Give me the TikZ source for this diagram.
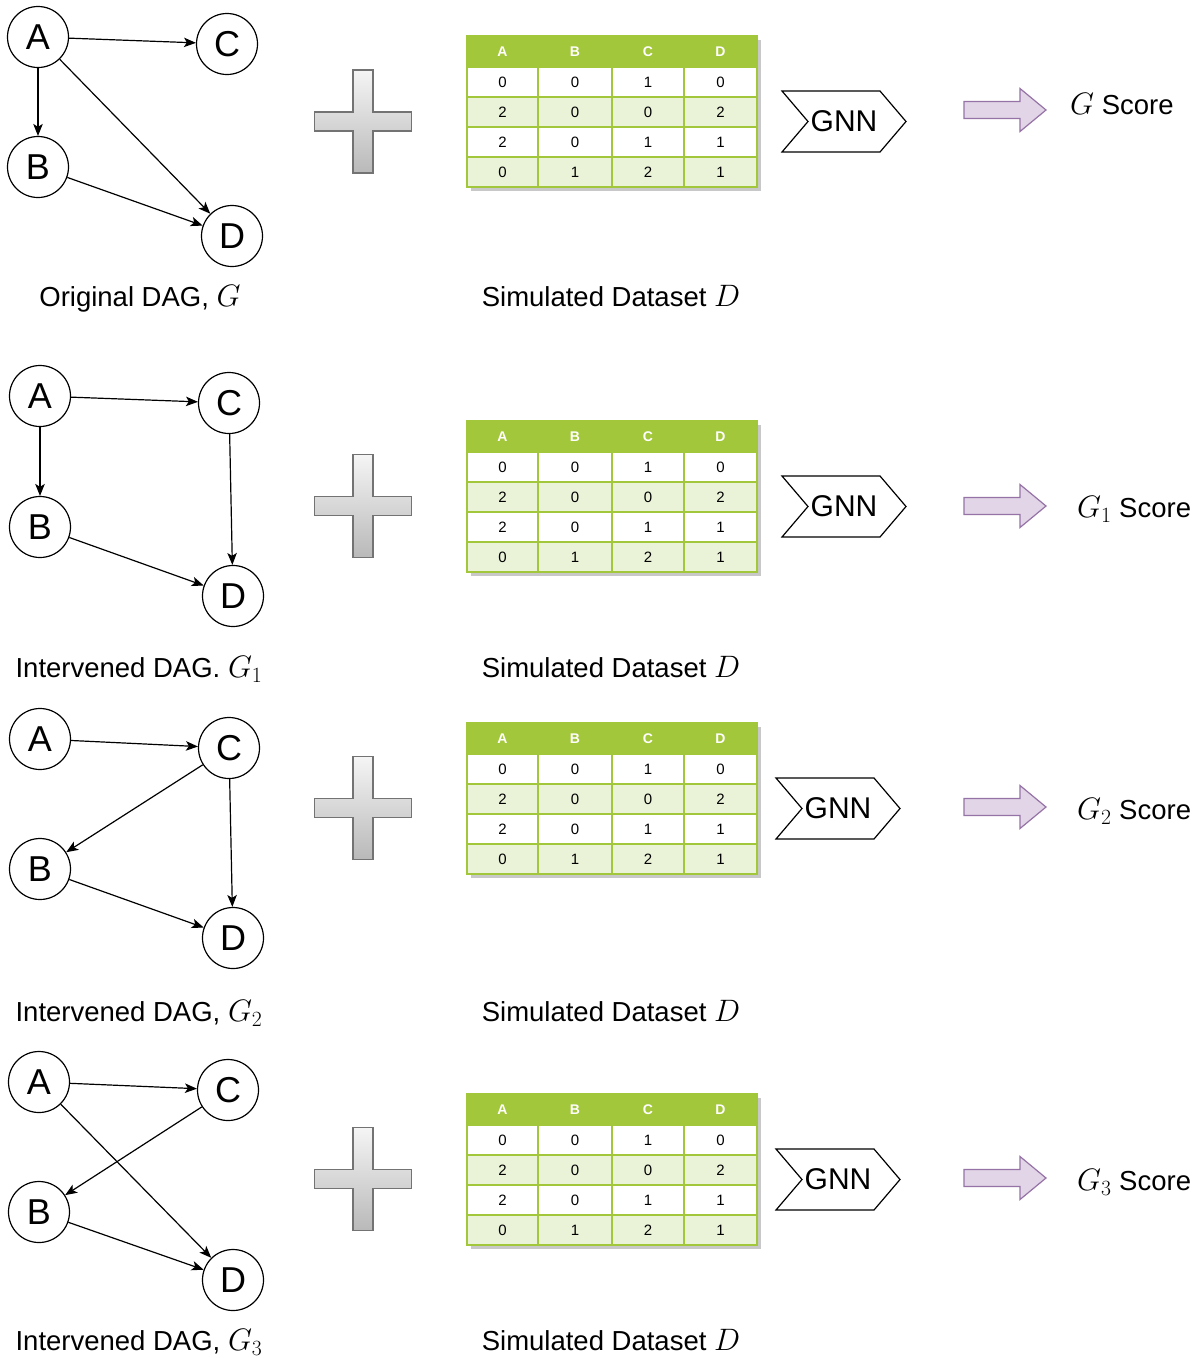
\RequirePackage{fix-cm}
\documentclass[tikz,border=0pt]{standalone}
\usepackage[no-math]{fontspec}
\setmainfont{Liberation Sans}
\usetikzlibrary{arrows.meta}
\definecolor{tgreen}{RGB}{163,199,58}
\definecolor{tlight}{RGB}{234,242,216}
\definecolor{tshadow}{RGB}{200,200,200}
\definecolor{arfill}{RGB}{225,213,231}
\definecolor{ardraw}{RGB}{150,115,166}
\definecolor{plusline}{RGB}{115,115,115}
\newcommand\MathBig[1]{{\fontsize{31}{34}\selectfont$#1$}}
\tikzset{
  vtx/.style={circle, draw, line width=1.2pt, minimum size=61pt, inner sep=0pt,
    font=\fontsize{36}{36}\selectfont},
  dagedge/.style={-{Stealth[length=12pt,width=9.5pt,inset=3pt]}, line width=1.2pt},
  lbl/.style={font=\fontsize{27.5}{30}\selectfont, inner sep=0pt, anchor=base},
  hdr/.style={font=\bfseries\fontsize{14}{16}\selectfont, text=white, inner sep=0pt},
  cell/.style={font=\fontsize{15}{17}\selectfont, inner sep=0pt},
  gnnshape/.style={draw, line width=1.2pt, fill=white},
  gnntext/.style={font=\fontsize{30}{30}\selectfont, inner sep=0pt},
  bigarrow/.style={draw=ardraw, fill=arfill, line width=1.2pt},
  plusshape/.style={draw=plusline, line width=1.5pt, top color=gray!8, bottom color=gray!55},
}
\newcommand\TRow[7]{% prefix, row, y, a, b, c, d
  \node[cell] (#1-#2-1) at (502.5,#3) {#4};
  \node[cell] (#1-#2-2) at (575,#3) {#5};
  \node[cell] (#1-#2-3) at (648,#3) {#6};
  \node[cell] (#1-#2-4) at (720.5,#3) {#7};
}
\newcommand\DataTbl[2]{% top y, prefix
  \begin{scope}[shift={(0,#1)}]
    \fill[tshadow] (471,4) rectangle (761,155);
    \fill[tgreen] (467,0) rectangle (757,31);
    \fill[white] (467,31) rectangle (757,61);
    \fill[tlight] (467,61) rectangle (757,91);
    \fill[white] (467,91) rectangle (757,121);
    \fill[tlight] (467,121) rectangle (757,151);
    \draw[tgreen, line width=1.2pt] (538,0) -- (538,151) (612,0) -- (612,151) (684,0) -- (684,151)
      (467,31) -- (757,31) (467,61) -- (757,61) (467,91) -- (757,91) (467,121) -- (757,121);
    \draw[tgreen, line width=1.6pt] (467,0) rectangle (757,151);
    \node[hdr] (#2-h-1) at (502.5,15.5) {A};
    \node[hdr] (#2-h-2) at (575,15.5) {B};
    \node[hdr] (#2-h-3) at (648,15.5) {C};
    \node[hdr] (#2-h-4) at (720.5,15.5) {D};
    \TRow{#2}{1}{46}{0}{0}{1}{0}
    \TRow{#2}{2}{76}{2}{0}{0}{2}
    \TRow{#2}{3}{106}{2}{0}{1}{1}
    \TRow{#2}{4}{136}{0}{1}{2}{1}
  \end{scope}
}
\newcommand\PlusSign[1]{% center y
  \begin{scope}[shift={(363,#1)}]
    \path[plusshape] (-10,-51.5) -- (10,-51.5) -- (10,-9.5) -- (48.5,-9.5) -- (48.5,9.5)
      -- (10,9.5) -- (10,51.5) -- (-10,51.5) -- (-10,9.5) -- (-48.5,9.5) -- (-48.5,-9.5)
      -- (-10,-9.5) -- cycle;
  \end{scope}
}
\newcommand\GNNBox[3]{% left x, center y, name
  \begin{scope}[shift={(#1,#2)}]
    \path[gnnshape] (0,-30.5) -- (98,-30.5) -- (124,0) -- (98,30.5) -- (0,30.5) -- (26,0) -- cycle;
    \node[gnntext] (#3) at (62,0) {GNN};
  \end{scope}
}
\newcommand\BigArrow[1]{% center y
  \begin{scope}[shift={(0,#1)}]
    \path[bigarrow] (964,-8.5) -- (1020,-8.5) -- (1020,-21.5) -- (1046,0) -- (1020,21.5)
      -- (1020,8.5) -- (964,8.5) -- cycle;
  \end{scope}
}
\begin{document}
\begin{tikzpicture}[x=1pt,y=-1pt]
\useasboundingbox[fill=white] (0,0) rectangle (1203,1358);

% ---------- Panel 1 ----------
\node[vtx] (a1) at (38,37) {A};
\node[vtx] (c1) at (227,44) {C};
\node[vtx] (b1) at (38,167) {B};
\node[vtx] (d1) at (232,236) {D};
\draw[dagedge] (a1) -- (c1);
\draw[dagedge] (a1) -- (b1);
\draw[dagedge] (a1) -- (d1);
\draw[dagedge] (b1) -- (d1);
\node[lbl] (lab1) at (140,306.5) {Original DAG, \MathBig{G}};
\PlusSign{121.5}
\DataTbl{36}{t1}
\node[lbl] (sd1) at (611,306.5) {Simulated Dataset \MathBig{D}};
\GNNBox{782}{121.5}{gnn1}
\BigArrow{110}
\node[lbl, anchor=base west] (sc1) at (1070,114.5) {\MathBig{G} Score};

% ---------- Panel 2 ----------
\node[vtx] (a2) at (40,396) {A};
\node[vtx] (c2) at (229,403) {C};
\node[vtx] (b2) at (40,527) {B};
\node[vtx] (d2) at (233,596) {D};
\draw[dagedge] (a2) -- (c2);
\draw[dagedge] (a2) -- (b2);
\draw[dagedge] (c2) -- (d2);
\draw[dagedge] (b2) -- (d2);
\node[lbl] (lab2) at (139,677.5) {Intervened DAG. \MathBig{G_1}};
\PlusSign{506}
\DataTbl{421}{t2}
\node[lbl] (sd2) at (611,677.5) {Simulated Dataset \MathBig{D}};
\GNNBox{782}{506.5}{gnn2}
\BigArrow{506}
\node[lbl, anchor=base west] (sc2) at (1077,517.5) {\MathBig{G_1} Score};

% ---------- Panel 3 ----------
\node[vtx] (a3) at (40,739) {A};
\node[vtx] (c3) at (229,748) {C};
\node[vtx] (b3) at (40,869) {B};
\node[vtx] (d3) at (233,938) {D};
\draw[dagedge] (a3) -- (c3);
\draw[dagedge] (c3) -- (b3);
\draw[dagedge] (c3) -- (d3);
\draw[dagedge] (b3) -- (d3);
\node[lbl] (lab3) at (139,1021.5) {Intervened DAG, \MathBig{G_2}};
\PlusSign{808}
\DataTbl{723}{t3}
\node[lbl] (sd3) at (611,1021.5) {Simulated Dataset \MathBig{D}};
\GNNBox{776}{808.5}{gnn3}
\BigArrow{807}
\node[lbl, anchor=base west] (sc3) at (1077,819.5) {\MathBig{G_2} Score};

% ---------- Panel 4 ----------
\node[vtx] (a4) at (39,1082) {A};
\node[vtx] (c4) at (228,1090) {C};
\node[vtx] (b4) at (39,1212) {B};
\node[vtx] (d4) at (233,1280) {D};
\draw[dagedge] (a4) -- (c4);
\draw[dagedge] (c4) -- (b4);
\draw[dagedge] (a4) -- (d4);
\draw[dagedge] (b4) -- (d4);
\node[lbl] (lab4) at (139,1350.5) {Intervened DAG, \MathBig{G_3}};
\PlusSign{1179}
\DataTbl{1094}{t4}
\node[lbl] (sd4) at (611,1350.5) {Simulated Dataset \MathBig{D}};
\GNNBox{776}{1179.5}{gnn4}
\BigArrow{1178}
\node[lbl, anchor=base west] (sc4) at (1077,1190.5) {\MathBig{G_3} Score};
\end{tikzpicture}
\end{document}
